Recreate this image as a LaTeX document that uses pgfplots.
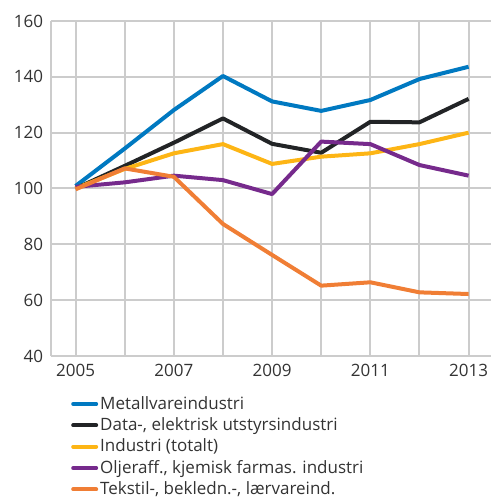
\documentclass[border=0pt]{standalone}
\usepackage{fontspec}
\setmainfont{Open Sans}
\usepackage{pgfplots}
\pgfplotsset{compat=1.18}
\definecolor{cblue}{HTML}{0079C1}
\definecolor{cblack}{HTML}{222426}
\definecolor{cyellow}{HTML}{FDB515}
\definecolor{cpurple}{HTML}{762A8C}
\definecolor{corange}{HTML}{F07E35}
\definecolor{gridgray}{HTML}{CCCCCC}
\definecolor{txt}{HTML}{333333}
\begin{document}
\fontsize{17bp}{21bp}\selectfont
\begin{tikzpicture}
\path[use as bounding box] (0,0) rectangle (492bp,498bp);
\begin{axis}[
  at={(51bp,142bp)}, anchor=south west,
  scale only axis, width=439.7bp, height=335bp,
  xmin=2004.5, xmax=2013.45, ymin=40, ymax=160,
  xtick={2005,2006,...,2013},
  xticklabels={2005,,2007,,2009,,2011,,2013},
  ytick={40,60,...,160},
  /pgf/number format/assume math mode=true,
  xmajorgrids, ymajorgrids,
  grid style={draw=gridgray, line width=2bp},
  major grid style={draw=gridgray, line width=2bp},
  axis x line=bottom, axis y line=left,
  axis line style={-, draw=gridgray, line width=2bp},
  major tick length=0pt,
  xtick style={draw=none}, ytick style={draw=none},
  tick label style={text=txt, font=\fontsize{17bp}{21bp}\selectfont},
  xticklabel style={yshift=-2bp},
  yticklabel style={xshift=-2bp},
  every axis plot/.append style={line width=4bp, line join=round},
  legend style={at={(0,0)}, anchor=north west, xshift=20bp, yshift=-38bp,
    draw=none, fill=none, inner sep=0pt, font=\fontsize{17bp}{21bp}\selectfont, text=txt,
    row sep=1.9bp},
  legend cell align=left,
  legend image code/.code={\draw[#1, line width=4bp, line cap=round] (0bp,0bp) -- (23bp,0bp);},
]
\addplot[cblue] coordinates {(2005,100.9)(2006,114.3)(2007,128.1)(2008,140.3)(2009,131.2)(2010,127.8)(2011,131.7)(2012,139.2)(2013,143.6)};
\addlegendentry{Metallvareindustri}
\addplot[cblack] coordinates {(2005,100)(2006,108.1)(2007,116.4)(2008,125.1)(2009,116.0)(2010,112.8)(2011,123.9)(2012,123.7)(2013,132.1)};
\addlegendentry{Data-, elektrisk utstyrsindustri}
\addplot[cyellow] coordinates {(2005,100)(2006,107.0)(2007,112.6)(2008,115.9)(2009,108.8)(2010,111.4)(2011,112.6)(2012,115.9)(2013,120.0)};
\addlegendentry{Industri (totalt)}
\addplot[cpurple] coordinates {(2005,100.6)(2006,102.2)(2007,104.6)(2008,103.0)(2009,98.0)(2010,116.8)(2011,115.9)(2012,108.4)(2013,104.6)};
\addlegendentry{Oljeraff., kjemisk farmas. industri}
\addplot[corange] coordinates {(2005,99.7)(2006,107.2)(2007,104.2)(2008,87.3)(2009,76.2)(2010,65.2)(2011,66.4)(2012,62.8)(2013,62.2)};
\addlegendentry{Tekstil-, bekledn.-, lærvareind.}
\end{axis}
\end{tikzpicture}
\end{document}
